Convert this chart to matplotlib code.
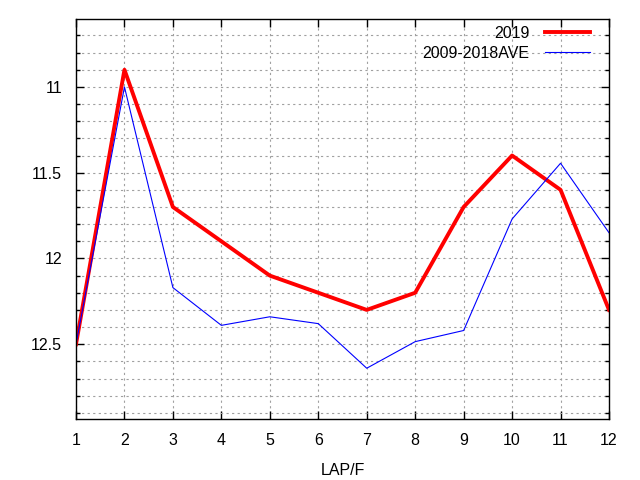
import matplotlib.pyplot as plt
from matplotlib.ticker import MultipleLocator

plt.rcParams['font.family'] = ['Liberation Sans', 'DejaVu Sans']

laps = [1, 2, 3, 4, 5, 6, 7, 8, 9, 10, 11, 12]
y2019 = [12.5, 10.9, 11.7, 11.9, 12.1, 12.2, 12.3, 12.2, 11.7, 11.4, 11.6, 12.3]
yave = [12.5, 11.0, 12.17, 12.39, 12.34, 12.38, 12.64, 12.485, 12.42, 11.77, 11.445, 11.85]

fig = plt.figure(figsize=(6.4, 4.8), dpi=100)
ax = fig.add_axes([76 / 640, 61 / 480, 533 / 640, 400 / 480])

ax.plot(laps, y2019, color='#ff0000', lw=2.8, label='2019')
ax.plot(laps, yave, color='#0000ff', lw=0.8, label='2009-2018AVE')

ax.set_xlim(1, 12)
ax.set_ylim(12.936, 10.604)
ax.xaxis.set_major_locator(MultipleLocator(1))
ax.yaxis.set_major_locator(MultipleLocator(0.5))
ax.yaxis.set_minor_locator(MultipleLocator(0.1))
ax.yaxis.set_major_formatter(plt.FuncFormatter(lambda v, p: '%g' % v))

ax.grid(True, which='both', color='#a0a0a0', ls=(0, (2, 3)), lw=0.8)
ax.tick_params(which='both', direction='in', top=True, right=True,
               labelsize=11.5, width=1, colors='black')
ax.tick_params(which='major', length=6, pad=10)
ax.tick_params(which='minor', length=3)
for s in ax.spines.values():
    s.set_linewidth(1)

ax.set_xlabel('LAP/F', fontsize=11.5, labelpad=11)

ax.legend(loc='upper right', bbox_to_anchor=((590 - 76) / 533, (419 - 26) / 400),
          frameon=False, markerfirst=False, fontsize=11.5,
          handlelength=2.8, labelspacing=0.3, borderaxespad=0, borderpad=0,
          handletextpad=1.0)

fig.savefig('out.png', dpi=100)
